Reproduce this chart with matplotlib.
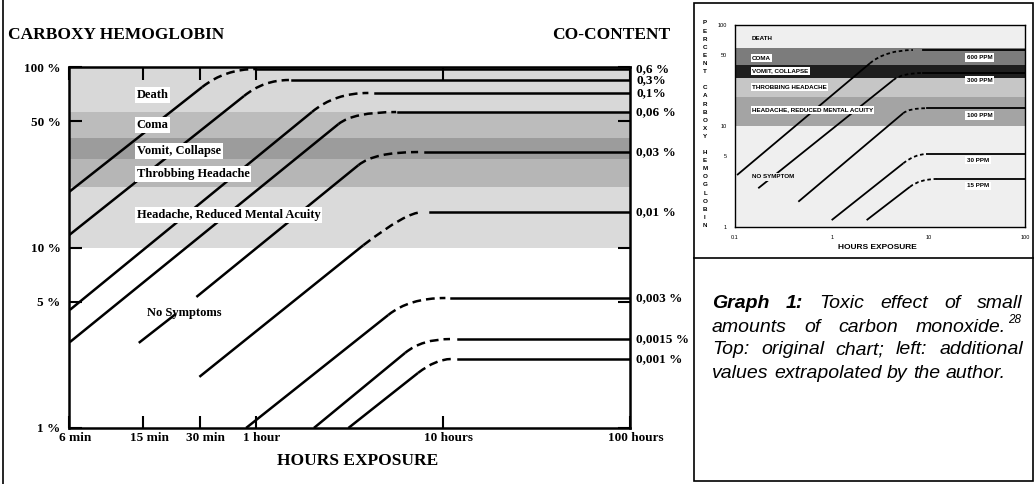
import matplotlib
matplotlib.use('Agg')
import matplotlib.pyplot as plt
import matplotlib.transforms as mtransforms
from matplotlib.path import Path
from matplotlib.patches import PathPatch, Rectangle
from matplotlib.lines import Line2D
from matplotlib.ticker import NullLocator

W, H = 1036, 484
SERIF = ['Liberation Serif', 'DejaVu Serif']
SANS = ['Liberation Sans', 'DejaVu Sans']
NARROW = ['Liberation Sans Narrow', 'Liberation Sans', 'DejaVu Sans']

# ---- main chart data (hours of exposure, % carboxy hemoglobin)
band_names = ['Death', 'Coma', 'Vomit, Collapse', 'Throbbing Headache',
              'Headache, Reduced Mental Acuity']
band_lo = [56, 40.5, 31, 21.6, 10]
band_hi = [100, 56, 40.5, 31, 21.6]
band_colors = ['#d8d8d8', '#bcbcbc', '#9c9c9c', '#b6b6b6', '#dadada']
band_label_pct = [70, 47.7, 34.2, 25.5, 15.1]

co_labels = ['0,6 %', '0,3%', '0,1%', '0,06 %', '0,03 %', '0,01 %',
             '0,003 %', '0,0015 %', '0,001 %']
plateau_pct = [97.5, 84.7, 71.8, 56.3, 33.8, 15.7, 5.25, 3.11, 2.41]
start_h = [0.1, 0.1, 0.101, 0.101, 0.239, 0.498, 0.885, 2.04, 3.12]
start_pct = [20.3, 11.7, 4.51, 2.99, 2.99, 1.92, 1.0, 1.0, 1.0]
solid_end_h = [0.516, 0.863, 1.99, 2.76, 3.53, 3.75, 5.10, 6.28, 7.36]
solid_end_pct = [77.5, 69.1, 56.3, 48.3, 28.6, 10.3, 4.23, 2.61, 2.02]
corner_h = [0.684, 1.10, 2.63, 3.32, 4.30, 6.36, 6.59, 7.73, 9.18]
dash_end_h = [1.0, 1.50, 3.99, 5.62, 7.36, 7.73, 10.3, 10.9, 11.0]
plateau_start_h = [1.0, 1.55, 4.35, 5.76, 8.02, 8.53, 11.0, 12.0, 12.0]
# the 0,03 % line is broken around the "No Symptoms" label
gap_line = 4
gap_h = [0.367, 0.480]
gap_pct = [4.23, 5.32]

x_ticks = [0.1, 0.25, 0.5, 1, 10, 100]
x_labels = ['6 min', '15 min', '30 min', '1 hour', '10 hours', '100 hours']
y_ticks = [1, 5, 10, 50, 100]
y_labels = ['1 %', '5 %', '10 %', '50 %', '100 %']

# ---- original (inset) chart data
ins_band_names = ['COMA', 'VOMIT, COLLAPSE', 'THROBBING HEADACHE',
                  'HEADACHE, REDUCED MENTAL ACUITY']
ins_band_lo = [40, 30, 19.4, 10]
ins_band_hi = [59, 40, 30, 19.4]
ins_band_colors = ['#7c7c7c', '#1e1e1e', '#c6c6c6', '#a4a4a4']
ins_band_label_pct = [47, 35, 24.3, 14.4]

ppm_labels = ['600 PPM', '300 PPM', '100 PPM', '30 PPM', '15 PPM']
ppm_plateau = [56.5, 33.5, 15.0, 5.28, 2.99]
ppm_start_h = [0.105, 0.174, 0.452, 1.0, 2.3]
ppm_start_pct = [3.27, 2.42, 1.78, 1.17, 1.17]
ppm_solid_h = [2.49, 4.34, 5.5, 5.5, 6.45]
ppm_solid_pct = [41.8, 28.5, 13.4, 4.27, 2.5]
ppm_corner_h = [3.64, 5.3, 6.35, 7.26, 8.2]
ppm_dash_end_h = [6.93, 8.87, 9.6, 9.6, 12.2]
ppm_plateau_h = [8.8, 8.87, 9.6, 9.6, 12.2]
ppm_label_pct = [48, 28.5, 12.6, 4.6, 2.55]

caption_lines = ['Graph 1: Toxic effect of small',
                 'amounts of carbon monoxide.',
                 'Top: original chart; left: additional',
                 'values extrapolated by the author.']


def fx(px):
    return px / W


def fy(py):
    return 1 - py / H


def draw_line(a, x0, y0, x1, y1, xc, yp, x2, xp, lw, dash):
    a.plot([x0, x1], [y0, y1], color='black', lw=lw, solid_capstyle='butt', zorder=3)
    p = Path([(x1, y1), (xc, yp), (x2, yp)], [Path.MOVETO, Path.CURVE3, Path.CURVE3])
    a.add_patch(PathPatch(p, fill=False, ec='black', lw=lw, ls=dash,
                          transform=a.transData, zorder=3))
    a.plot([xp, 100], [yp, yp], color='black', lw=lw, zorder=3)


fig = plt.figure(figsize=(W / 100, H / 100), dpi=100)
fig.patch.set_facecolor('white')

# ---- main chart
ax = fig.add_axes([fx(69), fy(428), (630 - 69) / W, (428 - 67) / H])
ax.set_xscale('log')
ax.set_yscale('log')
ax.set_xlim(0.1, 100)
ax.set_ylim(1, 100)

for lo, hi, c in zip(band_lo, band_hi, band_colors):
    ax.axhspan(lo, hi, color=c, lw=0, zorder=0)

for i in range(len(co_labels)):
    if i == gap_line:
        ax.plot([start_h[i], gap_h[0]], [start_pct[i], gap_pct[0]], color='black', lw=1.8, zorder=3)
        draw_line(ax, gap_h[1], gap_pct[1], solid_end_h[i], solid_end_pct[i], corner_h[i],
                  plateau_pct[i], dash_end_h[i], plateau_start_h[i], 1.8, (0, (3.5, 2)))
    else:
        draw_line(ax, start_h[i], start_pct[i], solid_end_h[i], solid_end_pct[i], corner_h[i],
                  plateau_pct[i], dash_end_h[i], plateau_start_h[i], 1.8, (0, (3.5, 2)))

for name, y in zip(band_names, band_label_pct):
    ax.text(0.23, y, name, fontfamily=SERIF, fontweight='bold', fontsize=9,
            va='center', ha='left', zorder=5,
            bbox=dict(boxstyle='square,pad=0.15', fc='white', ec='none'))
ax.text(0.26, 4.34, 'No Symptoms', fontfamily=SERIF, fontweight='bold', fontsize=9,
        va='center', ha='left', zorder=5)

blend = mtransforms.blended_transform_factory(ax.transAxes, ax.transData)
for lab, y in zip(co_labels, plateau_pct):
    ax.text(1.011, y, lab, transform=blend, fontfamily=SERIF, fontweight='bold',
            fontsize=9.5, va='center', ha='left', clip_on=False)

ax.set_xticks(x_ticks)
ax.set_xticklabels(x_labels, fontfamily=SERIF, fontweight='bold', fontsize=9.5)
ax.set_yticks(y_ticks)
ax.set_yticklabels(y_labels, fontfamily=SERIF, fontweight='bold', fontsize=9.5)
ax.xaxis.set_minor_locator(NullLocator())
ax.yaxis.set_minor_locator(NullLocator())
ax.tick_params(direction='in', length=9, width=1.5, top=True, right=True, pad=3)
ax.tick_params(axis='y', pad=6)
shift = mtransforms.ScaledTranslation(6 / 100, 0, fig.dpi_scale_trans)
for lab in ax.get_xticklabels():
    lab.set_transform(lab.get_transform() + shift)
for s in ax.spines.values():
    s.set_linewidth(1.8)

fig.text(fx(8), fy(35), 'CARBOXY HEMOGLOBIN', fontfamily=SERIF, fontweight='bold',
         fontsize=12.5, va='center', ha='left')
fig.text(fx(670), fy(35), 'CO-CONTENT', fontfamily=SERIF, fontweight='bold',
         fontsize=12.5, va='center', ha='right')
fig.text(fx(358), fy(461), 'HOURS EXPOSURE', fontfamily=SERIF, fontweight='bold',
         fontsize=12.5, va='center', ha='center')

# ---- inset: original chart
ax2 = fig.add_axes([fx(735), fy(227), (1025 - 735) / W, (227 - 25) / H])
ax2.set_xscale('log')
ax2.set_yscale('log')
ax2.set_xlim(0.1, 100)
ax2.set_ylim(1, 100)
ax2.set_facecolor('#efefef')
for lo, hi, c in zip(ins_band_lo, ins_band_hi, ins_band_colors):
    ax2.axhspan(lo, hi, color=c, lw=0, zorder=0)

for i in range(len(ppm_labels)):
    draw_line(ax2, ppm_start_h[i], ppm_start_pct[i], ppm_solid_h[i], ppm_solid_pct[i],
              ppm_corner_h[i], ppm_plateau[i], ppm_dash_end_h[i], ppm_plateau_h[i],
              1.3, (0, (2, 1.5)))
    ax2.text(25, ppm_label_pct[i], ppm_labels[i], fontfamily=NARROW, fontweight='bold',
             fontsize=4.5, va='center', ha='left', zorder=5,
             bbox=dict(boxstyle='square,pad=0.3', fc='white', ec='none'))

ax2.text(0.15, 74, 'DEATH', fontfamily=NARROW, fontweight='bold', fontsize=4.5,
         va='center', ha='left', zorder=5)
for name, y in zip(ins_band_names, ins_band_label_pct):
    ax2.text(0.15, y, name, fontfamily=NARROW, fontweight='bold', fontsize=4.5,
             va='center', ha='left', zorder=5,
             bbox=dict(boxstyle='square,pad=0.2', fc='white', ec='none'))
ax2.text(0.15, 3.13, 'NO SYMPTOM', fontfamily=NARROW, fontweight='bold', fontsize=4.5,
         va='center', ha='left', zorder=5,
         bbox=dict(boxstyle='square,pad=0.2', fc='#efefef', ec='none'))

ax2.set_xticks([0.1, 1, 10, 100])
ax2.set_xticklabels(['0.1', '1', '10', '100'], fontfamily=NARROW, fontsize=4)
ax2.set_yticks(y_ticks)
ax2.set_yticklabels(['1', '5', '10', '50', '100'], fontfamily=NARROW, fontsize=4)
ax2.xaxis.set_minor_locator(NullLocator())
ax2.yaxis.set_minor_locator(NullLocator())
ax2.tick_params(length=0, pad=6)
for s in ax2.spines.values():
    s.set_linewidth(1.0)

for i, ch in enumerate('PERCENT CARBOXY HEMOGLOBIN'):
    fig.text(fx(705), fy(23 + i * 8.1), ch, fontfamily=NARROW, fontweight='bold',
             fontsize=4.5, va='center', ha='center')
fig.text(fx(877), fy(248), 'HOURS EXPOSURE', fontfamily=NARROW, fontweight='bold',
         fontsize=6, va='center', ha='center')

# ---- frames
fig.add_artist(Line2D([fx(3), fx(3)], [0, 1], color='black', lw=1.2))
fig.add_artist(Rectangle((fx(694), fy(481)), (1033 - 694) / W, (481 - 3) / H,
                         transform=fig.transFigure, fill=False, ec='black', lw=1.2))
fig.add_artist(Line2D([fx(694), fx(1033)], [fy(258), fy(258)], color='black', lw=1.2))

# ---- caption, justified
renderer = fig.canvas.get_renderer()
cap_left, cap_right = 712, 1023
cap_y = [303, 327, 350, 374]
for li, line in enumerate(caption_lines):
    words = line.split(' ')
    texts = []
    for wi, w in enumerate(words):
        weight = 'bold' if (li == 0 and wi < 2) else 'normal'
        t = fig.text(0, fy(cap_y[li]), w, fontfamily=SANS, style='italic',
                     fontweight=weight, fontsize=14, va='center', ha='left')
        texts.append(t)
    widths = [t.get_window_extent(renderer).width for t in texts]
    right = 1006 if li == 1 else cap_right
    if li < len(caption_lines) - 1:
        gap = (right - cap_left - sum(widths)) / (len(words) - 1)
    else:
        gap = 5.4
    x = cap_left
    for t, w in zip(texts, widths):
        t.set_x(fx(x))
        x += w + gap
fig.text(fx(1008), fy(320), '28', fontfamily=SANS, style='italic', fontsize=8.5,
         va='center', ha='left')

fig.savefig('out.png', dpi=100)
